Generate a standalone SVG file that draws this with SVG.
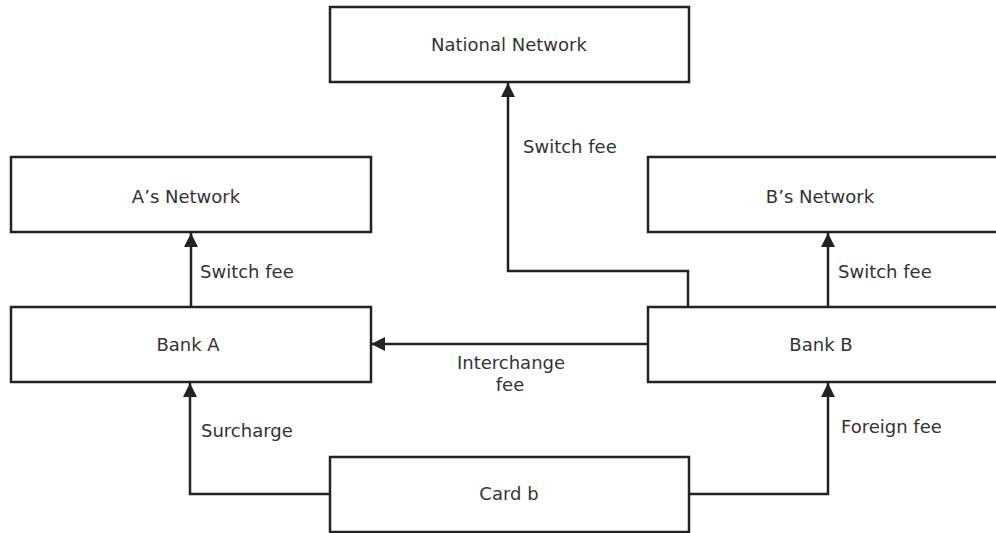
<svg xmlns="http://www.w3.org/2000/svg" width="996" height="533" viewBox="0 0 996 533">
<defs>
<style>
.box{fill:#fff;stroke:#222;stroke-width:2.5}
.lbl{font-family:"DejaVu Sans","Liberation Sans",sans-serif;font-size:18px;fill:#333}
.c{text-anchor:middle}
.edge{fill:none;stroke:#222;stroke-width:2.5}
</style>
<marker id="arr" markerUnits="userSpaceOnUse" markerWidth="16" markerHeight="16" refX="14" refY="7" orient="auto">
<path d="M0,0 L14,7 L0,14 z" fill="#222"/>
</marker>
</defs>
<rect width="996" height="533" fill="#fff"/>
<g id="edges">
<path class="edge" d="M688 307 V271 H508 V83" marker-end="url(#arr)"/>
<path class="edge" d="M191 307 V233" marker-end="url(#arr)"/>
<path class="edge" d="M828 307 V233" marker-end="url(#arr)"/>
<path class="edge" d="M648 344 H371" marker-end="url(#arr)"/>
<path class="edge" d="M330 494 H190 V383" marker-end="url(#arr)"/>
<path class="edge" d="M689 494 H828 V383" marker-end="url(#arr)"/>
<text class="lbl" x="523" y="153">Switch fee</text>
<text class="lbl" x="200" y="278">Switch fee</text>
<text class="lbl" x="838" y="278">Switch fee</text>
<text class="lbl c" x="511" y="369">Interchange</text>
<text class="lbl c" x="510" y="391">fee</text>
<text class="lbl" x="201" y="437">Surcharge</text>
<text class="lbl" x="841" y="433">Foreign fee</text>
</g>
<g id="national">
<rect class="box" x="330" y="7" width="359" height="75"/>
<text class="lbl c" x="509" y="51">National Network</text>
</g>
<g id="a-network">
<rect class="box" x="11" y="157" width="360" height="75"/>
<text class="lbl c" x="186" y="203">A’s Network</text>
</g>
<g id="b-network">
<rect class="box" x="648" y="157" width="360" height="75"/>
<text class="lbl c" x="820" y="203">B’s Network</text>
</g>
<g id="bank-a">
<rect class="box" x="11" y="307" width="360" height="75"/>
<text class="lbl c" x="188" y="351">Bank A</text>
</g>
<g id="bank-b">
<rect class="box" x="648" y="307" width="360" height="75"/>
<text class="lbl c" x="821" y="351">Bank B</text>
</g>
<g id="card-b">
<rect class="box" x="330" y="457" width="359" height="75"/>
<text class="lbl c" x="509" y="500">Card b</text>
</g>
</svg>
